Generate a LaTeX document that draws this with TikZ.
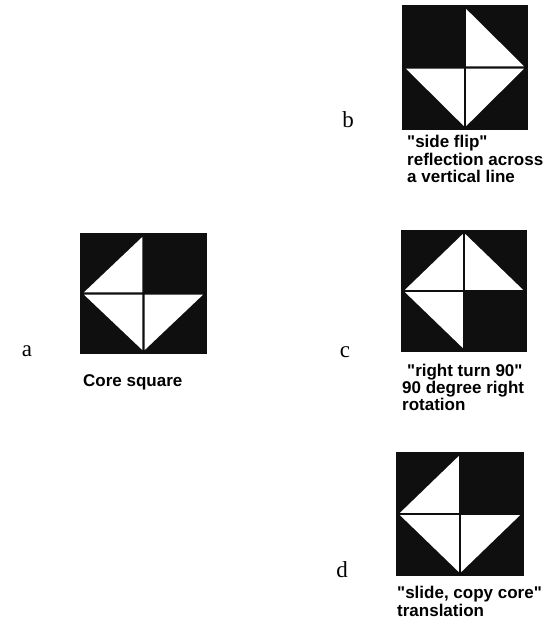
\documentclass[tikz,border=0pt]{standalone}
\usepackage{fontspec}
\newfontfamily\capfont{Liberation Sans}
\newfontfamily\letfont{Liberation Serif}
\newcommand{\quiltsq}[8]{%
  \pgfmathsetmacro\qcx{(#1+#3)/2}%
  \pgfmathsetmacro\qcy{(#2+#4)/2}%
  \fill[quiltdark] (#1,#2) rectangle (#3,#4);
  \ifnum#5=1 \fill[white] ({#1+\qm},{\qcy-\qg}) -- ({\qcx-\qg},{#2+\qm}) -- ({\qcx-\qg},{\qcy-\qg}) -- cycle;\fi
  \ifnum#6=1 \fill[white] ({\qcx+\qg},{#2+\qm}) -- ({#3-\qm},{\qcy-\qg}) -- ({\qcx+\qg},{\qcy-\qg}) -- cycle;\fi
  \ifnum#7=1 \fill[white] ({#1+\qm},{\qcy+\qg}) -- ({\qcx-\qg},{\qcy+\qg}) -- ({\qcx-\qg},{#4-\qm}) -- cycle;\fi
  \ifnum#8=1 \fill[white] ({\qcx+\qg},{\qcy+\qg}) -- ({#3-\qm},{\qcy+\qg}) -- ({\qcx+\qg},{#4-\qm}) -- cycle;\fi
}
\def\qm{4}
\def\qg{1.2}
\definecolor{quiltdark}{gray}{0.06}
\begin{document}
\begin{tikzpicture}[x=1pt,y=-1pt,
  letter/.style={anchor=base,inner sep=0pt,font=\letfont\fontsize{23}{23}\selectfont},
  caption/.style={anchor=base west,inner sep=0pt,font=\capfont\bfseries\fontsize{17}{17.5}\selectfont}]
\useasboundingbox (0,0) rectangle (549,628);
% squares
\quiltsq{80}{233}{207}{354}{1}{0}{1}{1}
\quiltsq{402}{5}{528}{130}{0}{1}{1}{1}
\quiltsq{401}{230}{527}{352}{1}{1}{1}{0}
\quiltsq{396}{452}{524}{576}{1}{0}{1}{1}
% letters
\node[letter] (la) at (27,356) {a};
\node[letter] (lb) at (348,128) {b};
\node[letter] (lc) at (345,357) {c};
\node[letter] (ld) at (342,577) {d};
% captions
\node[caption] (acap) at (83,386) {Core square};
\node[caption] (bcap1) at (407,148) {"side flip"};
\node[caption] (bcap2) at (407,165.5) {reflection across};
\node[caption] (bcap3) at (407,183) {a vertical line};
\node[caption] (ccap1) at (407,376) {"right turn 90"};
\node[caption] (ccap2) at (402,393) {90 degree right};
\node[caption] (ccap3) at (402,410) {rotation};
\node[caption] (dcap1) at (397,598) {"slide, copy core"};
\node[caption] (dcap2) at (397,616) {translation};
\end{tikzpicture}
\end{document}
